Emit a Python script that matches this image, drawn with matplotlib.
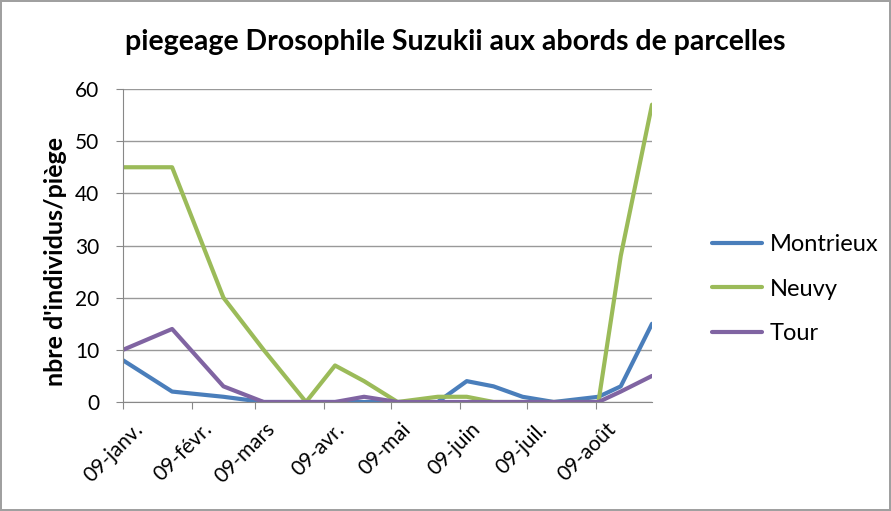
import numpy as np
import pandas as pd
import matplotlib
matplotlib.use("Agg")
import matplotlib.pyplot as plt
from matplotlib.transforms import ScaledTranslation

dates = ["2009-01-01", "2009-01-23", "2009-02-15", "2009-03-05", "2009-03-24",
         "2009-04-06", "2009-04-19", "2009-05-04", "2009-05-22", "2009-06-04",
         "2009-06-16", "2009-06-29", "2009-07-13", "2009-08-02", "2009-08-12",
         "2009-08-26"]
montrieux = [8, 2, 1, 0, 0, 0, 0, 0, 0, 4, 3, 1, 0, 1, 3, 15]
neuvy = [45, 45, 20, 10, 0, 7, 4, 0, 1, 1, 0, 0, 0, 0, 28, 57]
tour = [10, 14, 3, 0, 0, 0, 1, 0, 0, 0, 0, 0, 0, 0, 2, 5]

month_ticks = ["2009-01-01", "2009-02-01", "2009-03-01", "2009-04-01",
               "2009-05-01", "2009-06-01", "2009-07-01", "2009-08-01"]
month_labels = ["09-janv.", "09-févr.", "09-mars", "09-avr.", "09-mai",
                "09-juin", "09-juil.", "09-août"]

plt.rcParams['font.family'] = ['Lato', 'DejaVu Sans']

x = pd.to_datetime(dates)

fig = plt.figure(figsize=(8.91, 5.11), dpi=100)
fig.patch.set_edgecolor("#a0a0a0")
fig.patch.set_linewidth(1.5)
ax = fig.add_axes([123 / 891, 1 - 402 / 511, (652 - 123) / 891, (402 - 89) / 511])

ax.plot(x, montrieux, color="#4a7ebb", lw=3, label="Montrieux", solid_capstyle="round")
ax.plot(x, neuvy, color="#9bbb59", lw=3, label="Neuvy", solid_capstyle="round")
ax.plot(x, tour, color="#8064a2", lw=3, label="Tour", solid_capstyle="round")

ax.set_xlim(x[0], x[-1])
ax.set_ylim(0, 60)
ax.set_yticks(range(0, 61, 10))
ax.set_xticks(pd.to_datetime(month_ticks))
ax.set_xticklabels(month_labels, rotation=45, ha="right", va="top", rotation_mode="anchor")
ax.tick_params(axis="both", labelsize=15, color="#888888", length=5)
ax.tick_params(axis="y", pad=12)
ax.tick_params(axis="x", pad=5)
# shift the slanted labels a little to the right, like Excel does
shift = ScaledTranslation(10 / 100, -3 / 100, fig.dpi_scale_trans)
for lab in ax.get_xticklabels():
    lab.set_transform(lab.get_transform() + shift)
ax.grid(axis="y", color="#999999", lw=1)
ax.set_axisbelow(True)
for s in ["top", "right"]:
    ax.spines[s].set_visible(False)
for s in ["left", "bottom"]:
    ax.spines[s].set_color("#888888")

ax.set_ylabel("nbre d'individus/piège", fontsize=18, fontweight="bold")
ax.yaxis.set_label_coords(-(123 - 67) / 529, (402 - 262) / 313)
fig.text(455 / 891, 1 - 42 / 511, "piegeage Drosophile Suzukii aux abords de parcelles",
         ha="center", va="center", fontsize=20.5, fontweight="bold")

ax.legend(loc="center left", bbox_to_anchor=(712 / 891, 1 - 289 / 511),
          bbox_transform=fig.transFigure, frameon=False, fontsize=17,
          handlelength=2.1, handletextpad=0.35, labelspacing=1.0,
          borderpad=0, borderaxespad=0)

fig.savefig("out.png", dpi=100)
